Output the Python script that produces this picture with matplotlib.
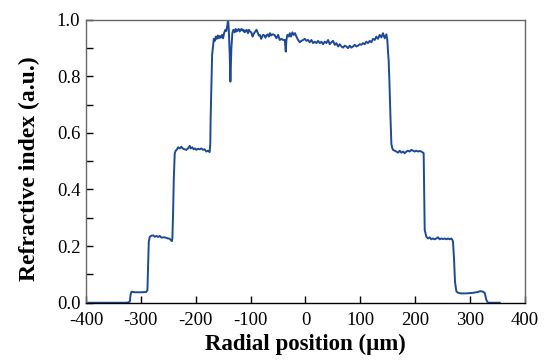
import numpy as np
import matplotlib
matplotlib.use('Agg')
import matplotlib.pyplot as plt
from matplotlib.ticker import MultipleLocator

plt.rcParams['font.family'] = ['Liberation Serif', 'DejaVu Serif']
plt.rcParams['axes.unicode_minus'] = False

# radial position (um) and normalised refractive index
pos = [-400, -370, -347, -341, -329, -323, -320, -318.9, -317, -311, -305, -299, -290, -288,
       -286.7, -285.5, -283.6, -280.6, -277.6, -274.6, -271.6, -268.5, -265.5, -262.5, -259.4,
       -256.4, -253.4, -250.3, -247.3, -245.5, -244.3, -243.1, -242.5, -241.2, -240.0, -238.2,
       -236.4, -234.0, -232.2, -229.1, -226.1, -223.1, -220.0, -217.0, -214.0, -210.9, -209.1,
       -206.1, -203.7, -201.3, -198.8, -195.8, -192.8, -189.7, -186.7, -183.7, -180.6, -177.6,
       -174.6, -173.4, -172.8, -171.3, -170.1, -167.0,
       -165.2, -163.4, -161.6, -159.7, -157.9, -156.1, -154.3, -151.9, -150.1, -148.3, -145.9,
       -144.1, -142.3, -141.0, -139.8, -138.0, -136.8, -135.0, -133.2, -131.4, -129.0, -127.2,
       -125.4, -123.6, -121.7, -119.9, -118.1, -116.3, -114.5, -112.7, -110.9, -109.1, -107.3,
       -104.8, -103.0, -101.2, -98.8, -96.4, -94.6, -92.8, -91.0, -89.2, -86.7, -84.9, -83.1,
       -80.7, -78.9, -77.1, -74.7, -72.9, -71.1, -68.6, -66.8, -64.4, -62.6, -59.6, -56.5,
       -55.9, -52.9, -49.8, -46.8, -43.8, -40.7, -37.7, -35.9, -34.7, -32.9, -30.4, -28.6,
       -26.2, -23.8, -21.3, -18.9, -16.5, -13.4, -10.4, -7.4, -4.3, -1.3, 1.8, 4.8, 7.9, 10.9,
       13.9, 17.0, 20.0, 23.0, 26.1, 29.1, 32.1, 35.2, 38.2, 41.2, 44.3, 47.3, 50.3, 53.4,
       56.4, 59.4, 62.5,
       65.5, 68.5, 71.6, 74.6, 77.6, 80.7, 83.7, 86.7, 89.8, 92.8, 95.8, 98.9, 101.9, 104.9,
       108.0, 111.0, 114.0, 117.1, 120.1, 123.1, 126.2, 129.2, 132.2, 135.3, 138.3, 141.3,
       144.4, 147.4, 149.2, 150.4, 151.6, 153.0, 155.0, 156.6, 158.4, 159.6, 162.6, 165.7,
       168.7, 171.8, 174.8, 177.8, 180.9, 183.9, 186.9, 190.0, 193.0, 196.0, 199.1, 202.1,
       205.2, 208.2, 211.2, 214.3, 215.4, 217.3, 220.3, 223.3, 226.4, 229.4, 232.5, 235.5,
       238.5, 241.6, 244.6, 247.6, 250.7, 253.7, 256.7, 259.8, 262.8, 265.8, 267.7, 268.8,
       270.7, 272.5, 274.9, 278.0, 284.0, 293.2, 305.3, 314.4, 318.7, 323.5, 326.6, 329.6,
       332.6, 354]

index = [0.0, 0.0, 0.0, 0.0, 0.0, 0.001, 0.004, 0.027, 0.039, 0.037, 0.037, 0.037, 0.038, 0.045,
         0.133, 0.216, 0.233, 0.237, 0.238, 0.233, 0.236, 0.232, 0.236, 0.230, 0.231,
         0.231, 0.229, 0.227, 0.226, 0.222, 0.219, 0.218, 0.228, 0.316, 0.434, 0.528,
         0.537, 0.542, 0.549, 0.545, 0.551, 0.544, 0.542, 0.540, 0.545, 0.554, 0.545,
         0.549, 0.542, 0.545, 0.540, 0.544, 0.542, 0.545, 0.540, 0.542, 0.534, 0.537,
         0.532, 0.563, 0.65, 0.77, 0.875, 0.932,
         0.925, 0.940, 0.932, 0.944, 0.934, 0.942, 0.936, 0.946, 0.934, 0.952, 0.964,
         0.960, 0.981, 1.0, 0.970, 0.875, 0.781, 0.899, 0.952, 0.964, 0.955, 0.967,
         0.958, 0.964, 0.967, 0.958, 0.964, 0.967, 0.961, 0.964, 0.955, 0.960, 0.964,
         0.952, 0.964, 0.958, 0.955, 0.940, 0.948, 0.955, 0.958, 0.964, 0.952, 0.944, 0.946,
         0.932, 0.940, 0.946, 0.944, 0.936, 0.944, 0.948, 0.940, 0.952, 0.944, 0.948, 0.946,
         0.944, 0.934, 0.946, 0.928, 0.932, 0.928, 0.928, 0.887, 0.928, 0.946, 0.940, 0.952,
         0.940, 0.955, 0.946, 0.952, 0.940, 0.928, 0.920, 0.925, 0.928, 0.932, 0.925, 0.928,
         0.920, 0.928, 0.917, 0.922, 0.917, 0.925, 0.917, 0.922, 0.913, 0.922, 0.917, 0.928,
         0.913, 0.920, 0.925, 0.911, 0.917, 0.905, 0.913,
         0.905, 0.901, 0.908, 0.905, 0.899, 0.908, 0.901, 0.905, 0.911, 0.905, 0.908, 0.913,
         0.911, 0.917, 0.913, 0.922, 0.917, 0.925, 0.920, 0.932, 0.928, 0.940, 0.932, 0.946,
         0.937, 0.952, 0.934, 0.948, 0.928, 0.887, 0.857, 0.78, 0.65, 0.56, 0.545, 0.540,
         0.537, 0.534, 0.530, 0.537, 0.530, 0.534, 0.528, 0.534, 0.537, 0.534, 0.540, 0.537,
         0.534, 0.537, 0.534, 0.536, 0.534, 0.530, 0.528, 0.257, 0.233, 0.227, 0.231, 0.224,
         0.227, 0.224, 0.227, 0.231, 0.224, 0.227, 0.225, 0.227, 0.224, 0.227, 0.224, 0.227,
         0.222, 0.216, 0.157, 0.074, 0.041, 0.035, 0.033, 0.033, 0.035, 0.038, 0.041, 0.039,
         0.035, 0.010, 0.0, 0.0]

fig = plt.figure(figsize=(5.44, 3.63), dpi=100)
ax = fig.add_axes([0.158, 0.166, 0.807, 0.780])

ax.plot(pos, index, color='#1c4a96', lw=1.4)

ax.set_xlim(-400, 400)
ax.set_ylim(0, 1.0)
ax.xaxis.set_major_locator(MultipleLocator(100))
ax.yaxis.set_major_locator(MultipleLocator(0.2))
ax.yaxis.set_minor_locator(MultipleLocator(0.1))
ax.yaxis.set_major_formatter(plt.FormatStrFormatter('%.1f'))

ax.tick_params(which='both', direction='in', length=5, width=1, labelsize=13.5,
               top=False, right=False)
ax.tick_params(axis='x', pad=7)
ax.tick_params(axis='y', pad=4)

for side in ['left', 'right', 'top']:
    ax.spines[side].set_color('#666666')
    ax.spines[side].set_linewidth(1)
ax.spines['bottom'].set_color('black')
ax.spines['bottom'].set_linewidth(1)

ax.set_xlabel('Radial position (\u03bcm)', fontsize=16.5, fontweight='bold', labelpad=3)
ax.set_ylabel('Refractive index (a.u.)', fontsize=17, fontweight='bold')
ax.yaxis.set_label_coords(-0.105, 0.475)

fig.savefig('out.png', dpi=100)
